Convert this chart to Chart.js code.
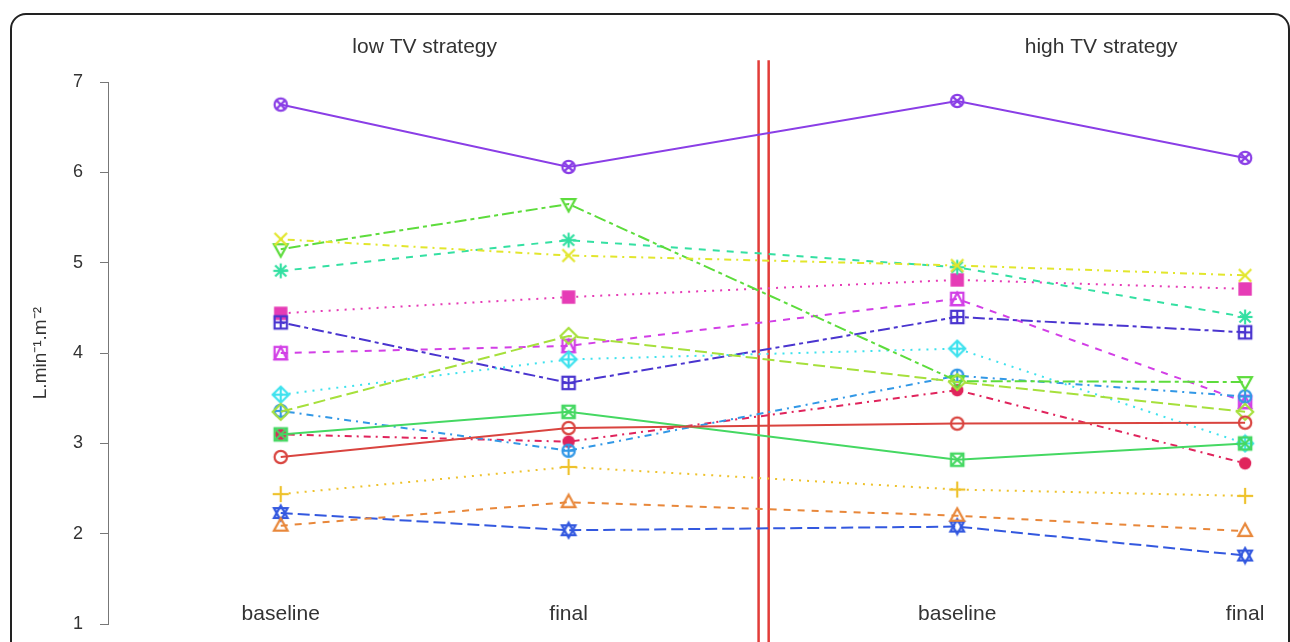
<!DOCTYPE html>
<html>
<head>
<meta charset="utf-8">
<script src="https://cdn.jsdelivr.net/npm/chart.js@4/dist/chart.umd.min.js"></script>
<style>
  body { margin: 0; background: #fff; overflow: hidden; }
  #wrap { position: relative; width: 1290px; height: 642px; overflow: hidden; }
  #chart { display: block; }
  #frame {
    position: absolute; left: 10px; top: 13px; width: 1276px; height: 700px;
    border: 2px solid #222; border-radius: 16px; pointer-events: none;
  }
</style>
</head>
<body>
<div id="wrap">
  <!-- the figure continues below the window, as in the cropped original -->
  <canvas id="chart" width="1290" height="652"></canvas>
  <div id="frame"></div>
</div>
<script>
// x categories (two strategies, each baseline -> final)
const categories = ['baseline', 'final', 'baseline', 'final'];
const xPositions = [1, 2, 3.35, 4.35];
const groupTitles = ['low TV strategy', 'high TV strategy'];
const yTicks = [1, 2, 3, 4, 5, 6, 7];

// one array per subject, values in L.min-1.m-2
const s01 = [2.85, 3.17, 3.22, 3.23];
const s02 = [2.09, 2.35, 2.20, 2.03];
const s03 = [2.44, 2.74, 2.49, 2.42];
const s04 = [5.26, 5.08, 4.97, 4.86];
const s05 = [3.35, 4.19, 3.68, 3.35];
const s06 = [5.15, 5.65, 3.69, 3.68];
const s07 = [3.10, 3.35, 2.82, 3.00];
const s08 = [4.91, 5.25, 4.95, 4.40];
const s09 = [3.54, 3.93, 4.05, 3.00];
const s10 = [3.36, 2.92, 3.75, 3.52];
const s11 = [2.23, 2.04, 2.08, 1.76];
const s12 = [4.34, 3.67, 4.40, 4.23];
const s13 = [6.75, 6.06, 6.79, 6.16];
const s14 = [4.00, 4.08, 4.60, 3.46];
const s15 = [4.44, 4.62, 4.81, 4.71];
const s16 = [3.10, 3.02, 3.59, 2.78];
const allSeries = [s01, s02, s03, s04, s05, s06, s07, s08, s09, s10, s11, s12, s13, s14, s15, s16];

// styling (rainbow palette, muted like the print)
const colors = ['#d9443f', '#e8873a', '#eec22c', '#e2e62c', '#a6e03c', '#5ddc3c', '#45d862', '#34e0a2',
                '#3ee2ee', '#3298e6', '#3358df', '#4a35cf', '#8a3ee6', '#d23fe6', '#e63cb6', '#e0245c'];
const dashes = [[], [7, 7], [2, 6], [2, 5, 7, 5], [12, 5], [4, 4, 12, 4]];
const FONT = '"Liberation Sans", Arial, sans-serif';

// R style plotting symbols, pch 1..16
function makeMarker(pch, color) {
  const s = 20, m = s / 2, r = 6.2;
  const c = document.createElement('canvas');
  c.width = c.height = s;
  const g = c.getContext('2d');
  g.strokeStyle = color; g.fillStyle = color; g.lineWidth = 2.2;
  const line = (x1, y1, x2, y2) => { g.beginPath(); g.moveTo(x1, y1); g.lineTo(x2, y2); g.stroke(); };
  const circle = () => { g.beginPath(); g.arc(m, m, r, 0, Math.PI * 2); g.stroke(); };
  const square = () => g.strokeRect(m - r, m - r, r * 2, r * 2);
  const plus = (k) => { line(m - k, m, m + k, m); line(m, m - k, m, m + k); };
  const cross = (k) => { line(m - k, m - k, m + k, m + k); line(m - k, m + k, m + k, m - k); };
  const diamond = () => { g.beginPath(); g.moveTo(m, m - r * 1.3); g.lineTo(m + r * 1.3, m); g.lineTo(m, m + r * 1.3); g.lineTo(m - r * 1.3, m); g.closePath(); g.stroke(); };
  const tri = (dir) => { g.beginPath(); g.moveTo(m, m - dir * r * 1.2); g.lineTo(m + r * 1.1, m + dir * r * 0.8); g.lineTo(m - r * 1.1, m + dir * r * 0.8); g.closePath(); g.stroke(); };
  switch (pch) {
    case 1: circle(); break;
    case 2: tri(1); break;
    case 3: plus(r * 1.3); break;
    case 4: cross(r); break;
    case 5: diamond(); break;
    case 6: tri(-1); break;
    case 7: square(); cross(r); break;
    case 8: plus(r * 1.2); cross(r * 0.9); break;
    case 9: diamond(); plus(r * 1.3); break;
    case 10: circle(); plus(r); break;
    case 11: tri(1); tri(-1); break;
    case 12: square(); plus(r); break;
    case 13: circle(); cross(r * 0.75); break;
    case 14: square(); g.beginPath(); g.moveTo(m, m - r); g.lineTo(m + r, m + r); g.lineTo(m - r, m + r); g.closePath(); g.stroke(); break;
    case 15: g.fillRect(m - r - 0.5, m - r - 0.5, r * 2 + 1, r * 2 + 1); break;
    case 16: g.beginPath(); g.arc(m, m, r, 0, Math.PI * 2); g.fill(); break;
  }
  return c;
}

const datasets = allSeries.map((vals, i) => ({
  label: 'subject ' + (i + 1),
  data: vals.map((v, j) => ({ x: xPositions[j], y: v })),
  borderColor: colors[i],
  backgroundColor: colors[i],
  borderWidth: 2,
  borderDash: dashes[i % 6],
  pointStyle: makeMarker(i + 1, colors[i]),
  pointRadius: 8,
  tension: 0
}));

// group titles, x labels and the red separator
const annotations = {
  id: 'annotations',
  beforeDatasetsDraw(chart) {
    const { ctx, scales: { x, y } } = chart;
    ctx.save();
    ctx.strokeStyle = '#e23c38';
    ctx.lineWidth = 2.5;
    [2.66, 2.695].forEach(v => {
      ctx.beginPath();
      ctx.moveTo(x.getPixelForValue(v), y.getPixelForValue(7.24));
      ctx.lineTo(x.getPixelForValue(v), chart.height);
      ctx.stroke();
    });
    ctx.restore();
  },
  afterDraw(chart) {
    const { ctx, scales: { x, y } } = chart;
    ctx.save();
    ctx.fillStyle = '#333';
    ctx.font = '21px ' + FONT;
    ctx.textAlign = 'center';
    ctx.textBaseline = 'middle';
    groupTitles.forEach((t, k) => {
      const cx = (x.getPixelForValue(xPositions[k * 2]) + x.getPixelForValue(xPositions[k * 2 + 1])) / 2;
      ctx.fillText(t, cx, y.getPixelForValue(7.39));
    });
    categories.forEach((c, j) => {
      ctx.fillText(c, x.getPixelForValue(xPositions[j]), y.getPixelForValue(1.11));
    });
    ctx.restore();
  }
};

new Chart(document.getElementById('chart'), {
  type: 'line',
  data: { datasets },
  plugins: [annotations],
  options: {
    responsive: false,
    animation: false,
    layout: { padding: { top: 82, bottom: 8, right: 19, left: 0 } },
    plugins: { legend: { display: false }, tooltip: { enabled: false } },
    scales: {
      x: { type: 'linear', min: 0.4, max: 4.44, display: false },
      y: {
        min: 1, max: 7,
        afterFit: (s) => { s.width = 108; },
        afterBuildTicks: (s) => { s.ticks = yTicks.map(v => ({ value: v })); },
        ticks: { color: '#333', padding: 17, font: { size: 18, family: FONT } },
        grid: { drawOnChartArea: false, tickLength: 8, color: '#777', lineWidth: 1 },
        border: { color: '#777', width: 1 },
        title: {
          display: true, text: 'L.min⁻¹.m⁻²', color: '#333', padding: { top: 29, bottom: 0 },
          font: { size: 19, family: FONT }
        }
      }
    }
  }
});
</script>
</body>
</html>
